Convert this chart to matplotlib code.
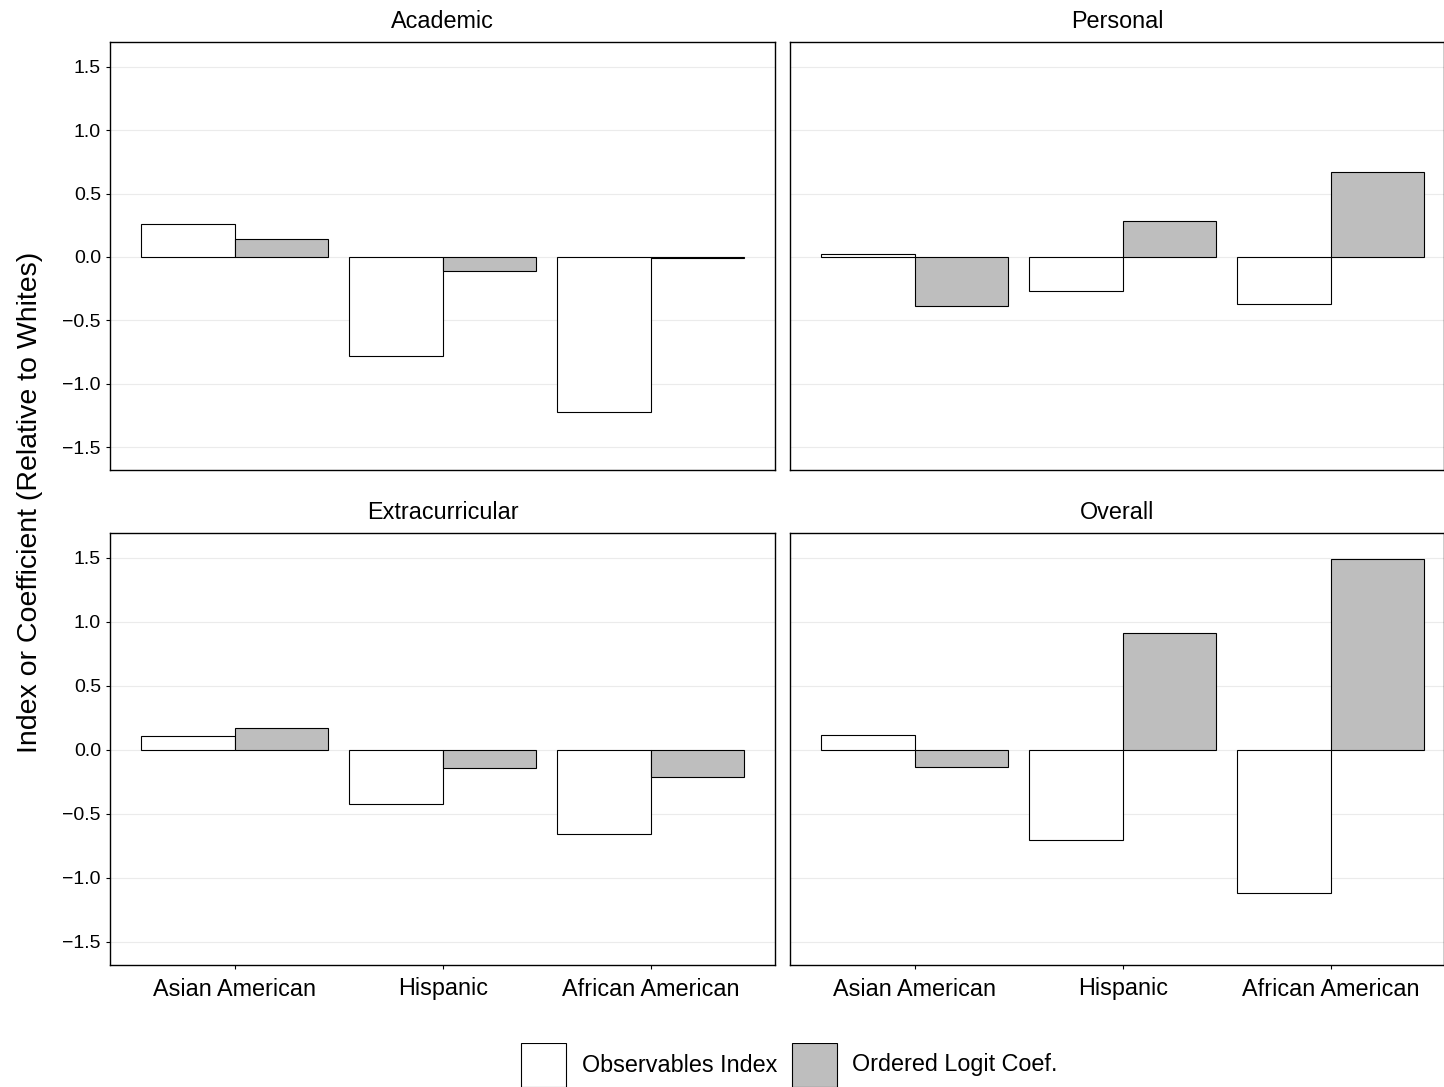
import matplotlib.pyplot as plt
import numpy as np

W, H = 1444, 1087
groups = ["Asian American", "Hispanic", "African American"]
panels = ["Academic", "Personal", "Extracurricular", "Overall"]
obs_index = {
    "Academic": [0.26, -0.78, -1.22],
    "Personal": [0.02, -0.27, -0.37],
    "Extracurricular": [0.11, -0.42, -0.66],
    "Overall": [0.12, -0.70, -1.12],
}
logit_coef = {
    "Academic": [0.14, -0.11, -0.01],
    "Personal": [-0.39, 0.28, 0.67],
    "Extracurricular": [0.17, -0.14, -0.21],
    "Overall": [-0.13, 0.91, 1.49],
}

plt.rcParams['font.family'] = ['Liberation Sans', 'DejaVu Sans']
fig = plt.figure(figsize=(W / 100, H / 100), dpi=100)

def px_axes(x0, y0, x1, y1):
    return fig.add_axes([x0 / W, 1 - y1 / H, (x1 - x0) / W, (y1 - y0) / H])

boxes = [(110, 42, 775, 470), (790, 42, 1444, 470),
         (110, 533, 775, 965), (790, 533, 1444, 965)]
x = np.arange(len(groups))
bw = 0.45
for i, (name, b) in enumerate(zip(panels, boxes)):
    ax = px_axes(*b)
    ax.bar(x - bw / 2, obs_index[name], bw, color="white", edgecolor="black", linewidth=0.8, zorder=2)
    ax.bar(x + bw / 2, logit_coef[name], bw, color="#bebebe", edgecolor="black", linewidth=0.8, zorder=2)
    ax.set_xlim(-0.6, -0.6 + (b[2] - b[0]) / 208)
    ax.set_ylim(-1.68, 1.695)
    ax.set_yticks([-1.5, -1.0, -0.5, 0.0, 0.5, 1.0, 1.5])
    ax.set_yticklabels(["\u22121.5", "\u22121.0", "\u22120.5", "0.0", "0.5", "1.0", "1.5"])
    ax.grid(axis="y", color="#ebebeb", linewidth=0.8, zorder=0)
    ax.set_xticks(x)
    ax.tick_params(axis="y", labelsize=14, length=3)
    ax.tick_params(axis="x", labelsize=16.8, length=3, pad=6)
    if i % 2 == 1:
        ax.tick_params(axis="y", left=False, labelleft=False)
    if i < 2:
        ax.tick_params(axis="x", bottom=False, labelbottom=False)
    else:
        ax.set_xticklabels(groups)
    ax.set_title(name, fontsize=16.8, pad=10)
    for s in ax.spines.values():
        s.set_linewidth(1.0)

fig.text(30 / W, 1 - 502 / H, "Index or Coefficient (Relative to Whites)", rotation=90,
         va="center", ha="center", fontsize=20.5)

# legend
lax = px_axes(0, 1043, W, 1087)
lax.set_axis_off()
lax.set_xlim(0, W)
lax.set_ylim(0, 44)
lax.add_patch(plt.Rectangle((521, 0), 45, 44, facecolor="white", edgecolor="black", linewidth=0.8))
lax.text(582, 22, "Observables Index", va="center", fontsize=16.8)
lax.add_patch(plt.Rectangle((792, 0), 45, 44, facecolor="#bebebe", edgecolor="black", linewidth=0.8))
lax.text(852, 22, "Ordered Logit Coef.", va="center", fontsize=16.8)

fig.savefig("out.png", dpi=100)
